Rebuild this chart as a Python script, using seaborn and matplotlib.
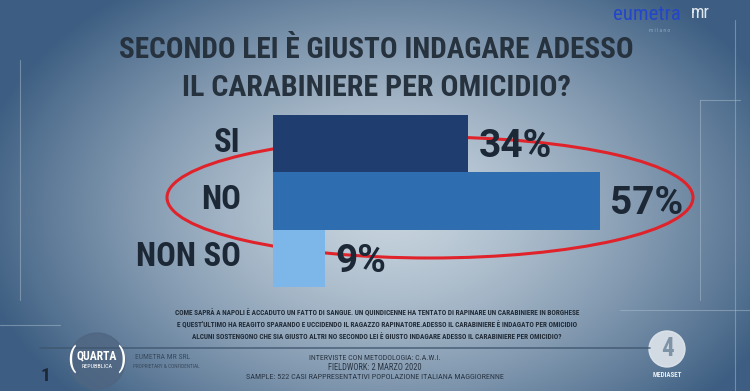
"""Quarta Repubblica poll: carabiniere indagato per omicidio."""
import numpy as np
import pandas as pd
import matplotlib
matplotlib.use("Agg")
import matplotlib.pyplot as plt
from matplotlib.patches import Ellipse, Circle
import seaborn as sns

categories = ["SI", "NO", "NON SO"]
values = [34, 57, 9]
value_labels = ["34%", "57%", "9%"]
bar_colors = ["#1f3d6e", "#2e6db0", "#7db6e8"]

title_lines = ["SECONDO LEI È GIUSTO INDAGARE ADESSO", "IL CARABINIERE PER OMICIDIO?"]
note_lines = [
    "COME SAPRÀ A NAPOLI È ACCADUTO UN FATTO DI SANGUE. UN QUINDICENNE HA TENTATO DI RAPINARE UN CARABINIERE IN BORGHESE",
    "E QUEST'ULTIMO HA REAGITO SPARANDO E UCCIDENDO IL RAGAZZO RAPINATORE.ADESSO IL CARABINIERE È INDAGATO PER OMICIDIO",
    "ALCUNI SOSTENGONO CHE SIA GIUSTO ALTRI NO SECONDO LEI È GIUSTO INDAGARE ADESSO IL CARABINIERE PER OMICIDIO?",
]
method_lines = [
    "INTERVISTE CON METODOLOGIA: C.A.W.I.",
    "FIELDWORK: 2 MARZO 2020",
    "SAMPLE: 522 CASI RAPPRESENTATIVI POPOLAZIONE ITALIANA MAGGIORENNE",
]

sns.set_theme(style="white")
plt.rcParams["font.family"] = ["Roboto Condensed", "DejaVu Sans"]
plt.rcParams["font.stretch"] = "condensed"
INK = "#1c2836"

W, H = 750, 391
fig = plt.figure(figsize=(W / 100, H / 100), dpi=100)
renderer = fig.canvas.get_renderer()


def fit(t, target_px):
    """Rescale a text so its rendered width is target_px."""
    w = t.get_window_extent(renderer).width
    t.set_fontsize(t.get_fontsize() * target_px / w)
    return t.get_fontsize()


# background: blue-grey vignette, lighter in the middle
bg = fig.add_axes([0, 0, 1, 1])
yy, xx = np.mgrid[0:H, 0:W]
d = np.sqrt(((xx - 390) / 420) ** 2 + ((yy - 210) / 280) ** 2)
d = np.clip(d, 0, 1) ** 1.4
light = np.array([0.78, 0.83, 0.87])
dark = np.array([0.24, 0.37, 0.51])
img = light[None, None, :] * (1 - d[..., None]) + dark[None, None, :] * d[..., None]
bg.imshow(img, extent=(0, W, H, 0), aspect="auto")
bg.set_xlim(0, W)
bg.set_ylim(H, 0)
bg.axis("off")

# faint frame lines
for x0, y0, x1, y1 in [(20, 60, 20, 300), (700, 100, 740, 100), (700, 100, 700, 300),
                       (0, 325, 60, 325), (735, 20, 735, 391), (620, 310, 750, 310)]:
    bg.plot([x0, x1], [y0, y1], color="#a8bccd", lw=0.8, alpha=0.5)
bg.plot([40, 650], [348, 348], color="#3e556e", lw=1.2, alpha=0.8)

# bars
ax = fig.add_axes([273 / W, 1 - 287 / H, 459 / W, 172 / H])
df = pd.DataFrame({"risposta": categories, "pct": values})
sns.barplot(data=df, x="pct", y="risposta", hue="risposta", palette=bar_colors,
            width=1.0, saturation=1, legend=False, linewidth=0, ax=ax)
ax.set_xlim(0, 80)
ax.set_ylim(2.5, -0.5)
ax.axis("off")

probe = ax.text(0, 0, "NON SO", fontsize=20, fontweight="bold")
cat_size = fit(probe, 105)
probe.remove()
for i, (v, lab) in enumerate(zip(values, value_labels)):
    ax.text(v + 1.8, i + 0.05, lab, va="center", ha="left", fontsize=28,
            fontweight="bold", fontstretch="normal", family=["Roboto", "DejaVu Sans"],
            color=INK)
    ax.text(-5.6, i - 0.02, categories[i], va="center", ha="right", fontsize=cat_size,
            fontweight="bold", color=INK)

# title
for k, (line, wpx) in enumerate(zip(title_lines, [515, 390])):
    t = bg.text(376, 50 + k * 38, line, ha="center", va="center", fontsize=24,
                fontweight="bold", color="#27323f")
    fit(t, wpx)

# highlight ellipse around NO
bg.add_patch(Ellipse((430, 197.5), 526, 121, fill=False,
                     edgecolor="#e0232b", lw=2.2))

# notes
for k, (line, wpx) in enumerate(zip(note_lines, [407, 398, 370])):
    t = bg.text(377, 313 + k * 12, line, ha="center", va="center", fontsize=5.6,
                fontweight="bold", color="#222c38")
    fit(t, wpx)
for k, (line, wpx) in enumerate(zip(method_lines, [132, 95, 260])):
    t = bg.text(375, 358 + k * 9.5, line, ha="center", va="center", fontsize=5.4,
                color="#2a3644")
    fit(t, wpx)

# broadcaster marks
bg.add_patch(Circle((97, 361), 28, color="#4f6580", alpha=0.75))
bg.text(97, 356, "QUARTA", ha="center", va="center", fontsize=8.5, fontweight="bold", color="white")
bg.text(97, 367, "REPUBBLICA", ha="center", va="center", fontsize=4.3, color="white")
bg.text(72, 359, "(", ha="center", va="center", fontsize=20, color="white")
bg.text(122, 359, ")", ha="center", va="center", fontsize=20, color="white")
bg.text(45, 376, "1", ha="center", va="center", fontsize=14, fontweight="bold", color="#1c2836")
bg.text(135, 357, "EUMETRA MR SRL", ha="left", va="center", fontsize=5.5, color="#3a4a5c")
bg.text(133, 366, "PROPRIETARY & CONFIDENTIAL", ha="left", va="center", fontsize=3.8, color="#3a4a5c")
bg.add_patch(Circle((667, 349), 18, color="#dfe6ec", alpha=0.9))
bg.text(667, 349, "4", ha="center", va="center", fontsize=18, fontweight="bold", color="#7f93a6")
bg.text(667, 375, "MEDIASET", ha="center", va="center", fontsize=5, fontweight="bold", color="#e8edf2")
bg.text(647, 15, "eumetra", ha="center", va="center", fontsize=15, color="#2446c8")
bg.text(700, 13, "mr", ha="center", va="center", fontsize=13, color="#dfe6ee")
bg.text(660, 30, "m i l a n o", ha="center", va="center", fontsize=4, color="#8fa8c4")

fig.savefig("out.png", dpi=100)
